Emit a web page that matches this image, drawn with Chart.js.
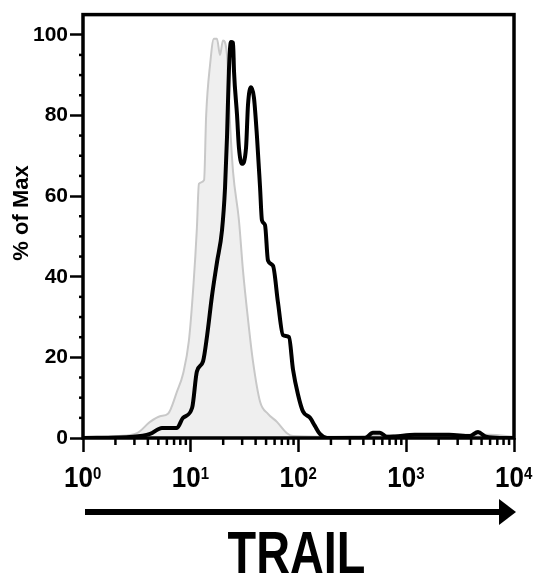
<!DOCTYPE html>
<html><head><meta charset="utf-8">
<script src="https://cdn.jsdelivr.net/npm/chart.js@4.4.1/dist/chart.umd.min.js"></script>
<style>html,body{margin:0;padding:0;background:#fff;}#wrap{width:534px;height:577px;position:relative;}</style>
</head><body><div id="wrap"><canvas id="c" width="534" height="577"></canvas></div>
<script>
// Isotype control (grey filled histogram)
const isoX = [1, 2.07, 3.17, 4.19, 5.18, 6.15, 7.45, 8.5, 9.6, 10.6, 11.4, 11.9, 13.3, 13.9, 15.1, 16.4, 17.5, 18.7, 19.9, 21.7, 23.1, 24.7, 28.0, 30.5, 34.0, 37.8, 44.0, 52.1, 63.1, 78.2, 88.9, 196, 400, 1660, 5985, 10000];
const isoY = [0, 0.5, 1.2, 4, 5.4, 6, 11.5, 16, 24, 38, 52, 63, 64, 80, 92.5, 99, 99, 95, 98.6, 95, 78.5, 66, 54, 41.7, 29.4, 19, 9, 6, 4, 1.2, 0.5, 0.3, 0.5, 0.8, 0.8, 0.3];
// TRAIL staining (black line)
const trailX = [1, 2.91, 4.19, 5.41, 6.42, 7.45, 8.47, 10.3, 11.4, 13.0, 14.2, 15.7, 17.5, 19.5, 20.8, 21.7, 22.6, 23.6, 24.7, 25.2, 26.9, 28.0, 29.9, 32.6, 34.0, 36.3, 38.6, 41.2, 44.0, 45.8, 48.9, 52.1, 58.0, 64.5, 71.8, 81.6, 88.9, 98.9, 110, 128, 142, 158, 184, 414, 491, 570, 662, 787, 1200, 2500, 3908, 4634, 5500, 7413, 10000];
const trailY = [0, 0.3, 1, 2.5, 2.5, 2.5, 5, 7.5, 16.5, 19, 25.5, 35, 43.5, 51.5, 62, 74.6, 91, 98.2, 98, 91, 80, 72, 68, 72, 82.7, 87, 84.4, 74.6, 62, 54, 52.8, 44, 42.7, 33.6, 25.5, 25, 17, 10.8, 6.6, 5, 3, 1, 0, 0, 1.3, 1.3, 0.3, 0.4, 0.8, 0.8, 0.5, 1.5, 0.3, 0, 0];

const xTickValues = [1,2,3,4,5,6,7,8,9,10,20,30,40,50,60,70,80,90,100,200,300,400,500,600,700,800,900,1000,2000,3000,4000,5000,6000,7000,8000,9000,10000];
const xMajor = [1, 10, 100, 1000, 10000];
const xTickBase = '10';
const xTickExp = ['0', '1', '2', '3', '4'];
const yTickValues = [0,5,10,15,20,25,30,35,40,45,50,55,60,65,70,75,80,85,90,95,100];
const yMajor = [0, 20, 40, 60, 80, 100];
const xTitle = 'TRAIL';
const yTitle = '% of Max';

const toPts = (xs, ys) => xs.map((v, i) => ({x: v, y: ys[i]}));
const FAM = '"Liberation Sans", Arial, sans-serif';

const decor = {
  id: 'decor',
  afterDraw(chart) {
    const {ctx, chartArea: a, scales: {x, y}} = chart;
    ctx.save();
    ctx.strokeStyle = '#000';
    ctx.fillStyle = '#000';
    ctx.lineWidth = 2.5;
    xTickValues.forEach(v => {
      if (xMajor.includes(v)) return;
      const px = x.getPixelForValue(v);
      ctx.beginPath(); ctx.moveTo(px, a.bottom); ctx.lineTo(px, a.bottom + 7); ctx.stroke();
    });
    yTickValues.forEach(v => {
      if (yMajor.includes(v)) return;
      const py = y.getPixelForValue(v);
      ctx.beginPath(); ctx.moveTo(a.left, py); ctx.lineTo(a.left - 4, py); ctx.stroke();
    });
    // x tick labels: 10 with superscript exponent
    xMajor.forEach((v, i) => {
      const px = x.getPixelForValue(v);
      ctx.save();
      ctx.translate(px + 10, 487);
      ctx.scale(1, 1.1);
      ctx.font = 'bold 26px ' + FAM;
      ctx.textAlign = 'right'; ctx.textBaseline = 'alphabetic';
      ctx.fillText(xTickBase, 0, 0);
      ctx.font = 'bold 15px ' + FAM;
      ctx.textAlign = 'left';
      ctx.fillText(xTickExp[i], 0, -7);
      ctx.restore();
    });
    // frame
    ctx.lineWidth = 3.5;
    ctx.strokeRect(a.left, a.top, a.right - a.left, a.bottom - a.top);
    // arrow
    const ay = 512;
    ctx.lineWidth = 6;
    ctx.beginPath(); ctx.moveTo(a.left + 2, ay); ctx.lineTo(a.right - 12, ay); ctx.stroke();
    ctx.beginPath(); ctx.moveTo(a.right - 15, ay - 13); ctx.lineTo(a.right + 2, ay); ctx.lineTo(a.right - 15, ay + 13); ctx.closePath(); ctx.fill();
    // x title
    ctx.save();
    ctx.translate((a.left + a.right) / 2 - 2, 573);
    ctx.scale(0.78, 1);
    ctx.font = 'bold 60px ' + FAM;
    ctx.textAlign = 'center'; ctx.textBaseline = 'alphabetic';
    ctx.fillText(xTitle, 0, 0);
    ctx.restore();
    // y title
    ctx.save();
    ctx.translate(28, 213);
    ctx.rotate(-Math.PI / 2);
    ctx.font = 'bold 22px ' + FAM;
    ctx.textAlign = 'center'; ctx.textBaseline = 'alphabetic';
    ctx.fillText(yTitle, 0, 0);
    ctx.restore();
    ctx.restore();
  }
};

new Chart(document.getElementById('c'), {
  type: 'line',
  data: {
    datasets: [
      {
        label: 'TRAIL', data: toPts(trailX, trailY),
        borderColor: '#000', borderWidth: 4, pointRadius: 0, fill: false,
        cubicInterpolationMode: 'monotone'
      },
      {
        label: 'Isotype', data: toPts(isoX, isoY),
        borderColor: '#c8c8c8', borderWidth: 2, backgroundColor: '#efefef', pointRadius: 0,
        fill: 'origin', cubicInterpolationMode: 'monotone'
      }
    ]
  },
  options: {
    responsive: false, animation: false, devicePixelRatio: 1,
    layout: {padding: {left: 0, right: 20, top: 9, bottom: 0}},
    plugins: {legend: {display: false}, tooltip: {enabled: false}},
    scales: {
      x: {
        type: 'logarithmic', min: 1, max: 10000,
        afterBuildTicks: s => { s.ticks = xTickValues.map(v => ({value: v, major: xMajor.includes(v)})); },
        afterFit: s => { s.height = 139; },
        border: {display: false},
        grid: {drawOnChartArea: false, drawTicks: true, tickLength: 14, tickWidth: 2.5,
          tickColor: c => (c.tick && xMajor.includes(c.tick.value)) ? '#000' : 'rgba(0,0,0,0)'},
        ticks: {
          autoSkip: false, maxRotation: 0, minRotation: 0, padding: 4, color: '#000',
          font: {family: FAM, size: 25, weight: 'bold'},
          callback: () => ''
        }
      },
      y: {
        min: 0, max: 105,
        afterBuildTicks: s => { s.ticks = yTickValues.map(v => ({value: v})); },
        afterFit: s => { s.width = 83; },
        border: {display: false},
        grid: {drawOnChartArea: false, drawTicks: true, tickLength: 13, tickWidth: 2.5,
          tickColor: c => (c.tick && yMajor.includes(c.tick.value)) ? '#000' : 'rgba(0,0,0,0)'},
        ticks: {
          autoSkip: false, padding: 2, color: '#000',
          font: {family: FAM, size: 21, weight: 'bold'},
          callback: v => yMajor.includes(v) ? String(v) : ''
        }
      }
    }
  },
  plugins: [decor]
});
</script></body></html>
